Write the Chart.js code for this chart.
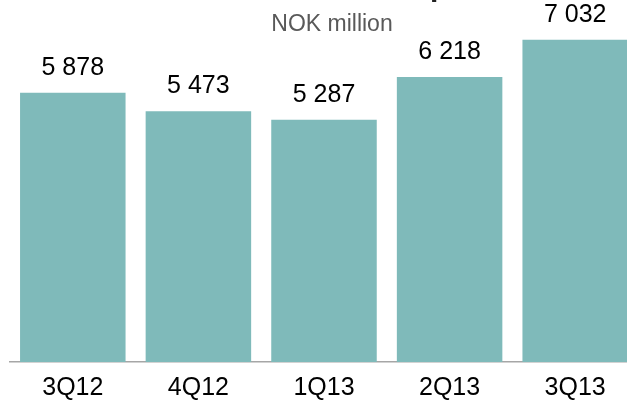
<!DOCTYPE html>
<html>
<head>
<meta charset="utf-8">
<script src="https://cdn.jsdelivr.net/npm/chart.js@4.4.1/dist/chart.umd.min.js"></script>
<style>
  html, body { margin: 0; padding: 0; background: #fff; overflow: hidden; }
  #wrap { position: relative; width: 627px; height: 406px; }
</style>
</head>
<body>
<div id="wrap"><canvas id="chart"></canvas></div>
<script>
const quarters = ['3Q12', '4Q12', '1Q13', '2Q13', '3Q13'];
const revenue = [5878, 5473, 5287, 6218, 7032];
const unitLabel = 'NOK million';
const titleText = 'Revenue development';

const barColor = '#7fbaba';

// "5 878" style, space as thousands separator
const fmt = v => String(v).replace(/\B(?=(\d{3})+(?!\d))/g, ' ');

// stretch the category axis past the right edge so the last bar is cut off
const bleedPlugin = {
  id: 'bleed',
  afterLayout(chart) {
    const x = chart.scales.x;
    x.right = chart.width + 11;
    x.width = x.right - x.left;
    x.configure();
  }
};

const labelPlugin = {
  id: 'labels',
  afterDatasetsDraw(chart) {
    const ctx = chart.ctx;
    const meta = chart.getDatasetMeta(0);
    ctx.save();
    ctx.fillStyle = '#000';
    ctx.font = '25px "Liberation Sans", Arial, sans-serif';
    ctx.textAlign = 'center';
    ctx.textBaseline = 'alphabetic';
    meta.data.forEach((bar, i) => {
      ctx.fillText(fmt(revenue[i]), bar.x, bar.y - 18);
    });

    // unit caption
    ctx.fillStyle = '#595959';
    ctx.font = '23px "Liberation Sans", Arial, sans-serif';
    ctx.fillText(unitLabel, 332, 31);

    // heading sits mostly above the visible area
    ctx.font = 'bold 30px "Liberation Sans", Arial, sans-serif';
    ctx.textAlign = 'left';
    const pre = ctx.measureText('Revenue develo').width;
    ctx.fillStyle = '#222';
    ctx.fillText(titleText, 430 - pre, -4);
    ctx.restore();
  }
};

new Chart(document.getElementById('chart'), {
  type: 'bar',
  data: {
    labels: quarters,
    datasets: [{
      data: revenue,
      backgroundColor: barColor,
      borderWidth: 0,
      barPercentage: 0.84,
      categoryPercentage: 1.0
    }]
  },
  options: {
    responsive: true,
    maintainAspectRatio: false,
    animation: false,
    layout: { padding: { left: 10, right: 0, top: 0, bottom: 0 } },
    plugins: {
      legend: { display: false },
      tooltip: { enabled: false }
    },
    scales: {
      x: {
        grid: { display: false, drawTicks: false },
        border: { display: true, color: '#a6a6a6', width: 1.5 },
        ticks: {
          color: '#000',
          padding: 11,
          font: { size: 25, family: '"Liberation Sans", Arial, sans-serif' }
        },
        afterFit(scale) { scale.height = 44; }
      },
      y: {
        display: false,
        min: 0,
        max: 7900
      }
    }
  },
  plugins: [bleedPlugin, labelPlugin]
});
</script>
</body>
</html>
